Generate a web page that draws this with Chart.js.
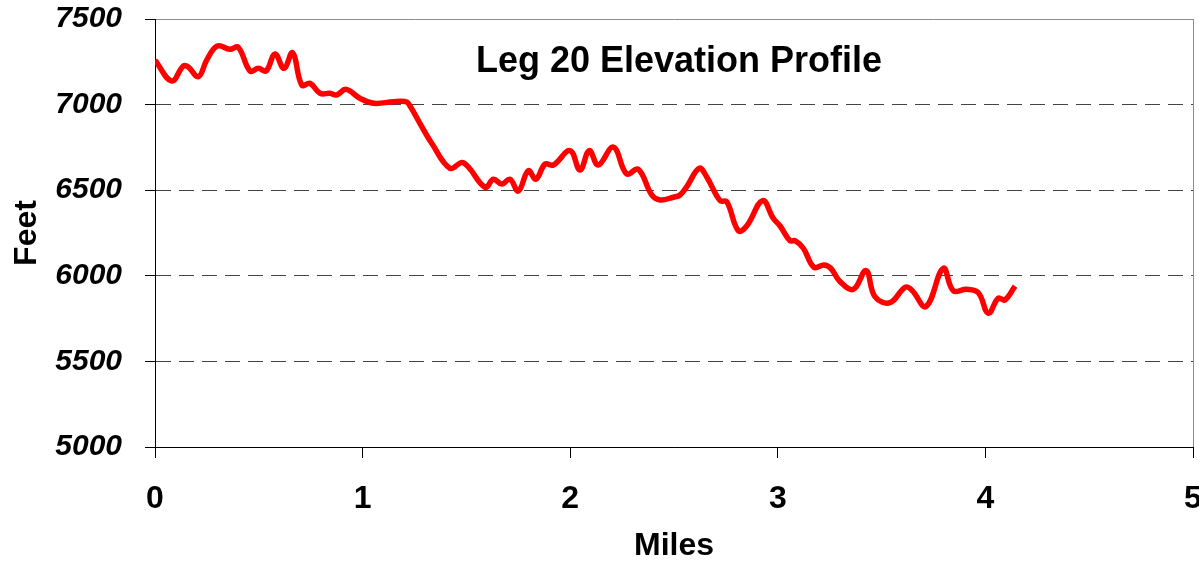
<!DOCTYPE html>
<html>
<head>
<meta charset="utf-8">
<script src="https://cdn.jsdelivr.net/npm/chart.js@4/dist/chart.umd.min.js"></script>
<style>
  html, body { margin: 0; padding: 0; background: #fff; overflow: hidden; }
  #wrap { width: 1199px; height: 563px; position: relative; }
</style>
</head>
<body>
<div id="wrap"><canvas id="elevChart"></canvas></div>
<script>
// elevation data
const miles = [0, 0.080, 0.136, 0.159, 0.209, 0.249, 0.300, 0.361, 0.401, 0.458,
  0.498, 0.535, 0.578, 0.621, 0.663, 0.707, 0.747, 0.795, 0.843, 0.875,
  0.920, 0.987, 1.052, 1.148, 1.204, 1.220, 1.285, 1.333, 1.421, 1.485,
  1.590, 1.630, 1.670, 1.710, 1.750, 1.798, 1.835, 1.879, 1.919, 1.999,
  2.047, 2.092, 2.135, 2.208, 2.272, 2.328, 2.393, 2.433, 2.497, 2.529,
  2.561, 2.622, 2.657, 2.722, 2.754, 2.810, 2.850, 2.927, 2.978, 3.011,
  3.059, 3.083, 3.123, 3.174, 3.223, 3.255, 3.300, 3.364, 3.425, 3.468,
  3.540, 3.613, 3.645, 3.714, 3.797, 3.845, 3.910, 3.966, 4.014, 4.062,
  4.094, 4.143];
const feet = [7260, 7138, 7225, 7221, 7163, 7260, 7342, 7323, 7335, 7196,
  7212, 7196, 7296, 7212, 7303, 7114, 7124, 7066, 7066, 7056,
  7089, 7037, 7008, 7017, 7018, 7008, 6871, 6774, 6628, 6661,
  6517, 6564, 6536, 6564, 6495, 6614, 6564, 6653, 6647, 6731,
  6618, 6731, 6647, 6751, 6595, 6622, 6472, 6443, 6459, 6472,
  6520, 6628, 6579, 6439, 6433, 6263, 6291, 6439, 6336, 6291,
  6205, 6205, 6161, 6050, 6063, 6044, 5966, 5921, 6030, 5878,
  5843, 5933, 5917, 5821, 6044, 5913, 5921, 5901, 5781, 5869,
  5859, 5940];
const chartTitle = "Leg 20 Elevation Profile";
const xTitle = "Miles";
const yTitle = "Feet";

const points = miles.map((m, i) => ({ x: m, y: feet[i] }));

//title sits inside the plot area
const innerTitle = {
  id: "innerTitle",
  afterDraw(chart) {
    const ctx = chart.ctx;
    ctx.save();
    ctx.font = "bold 36px 'Liberation Sans', Arial, sans-serif";
    ctx.fillStyle = "#000";
    ctx.textAlign = "center";
    ctx.textBaseline = "middle";
    ctx.fillText(chartTitle, 679, 62);
    ctx.restore();
  }
};

new Chart(document.getElementById("elevChart"), {
  type: "line",
  data: {
    datasets: [{
      data: points,
      borderColor: "#ff0000",
      borderWidth: 5.5,
      pointRadius: 0,
      tension: 0.4,
      fill: false
    }]
  },
  options: {
    responsive: true,
    maintainAspectRatio: false,
    animation: false,
    layout: { padding: { top: 19, right: 0, left: 0, bottom: 0 } },
    plugins: { legend: { display: false }, tooltip: { enabled: false } },
    scales: {
      x: {
        type: "linear",
        min: 0,
        max: 5,
        ticks: {
          stepSize: 1,
          color: "#000",
          padding: 22,
          font: { family: "'Liberation Sans', Arial, sans-serif", size: 32, weight: "bold" }
        },
        grid: {
          color: c => c.tick && c.tick.value === 5 ? "#8c8c8c" : "rgba(0,0,0,0)",
          tickColor: "#000",
          tickLength: 11,
          lineWidth: 1
        },
        border: { color: "#000", width: 1 },
        title: {
          display: true,
          text: xTitle,
          color: "#000",
          padding: { top: 0, bottom: -2 },
          font: { family: "'Liberation Sans', Arial, sans-serif", size: 32, weight: "bold" }
        },
        afterFit: s => { s.height = 116; s.paddingLeft = 0; s.paddingRight = 6; }
      },
      y: {
        min: 5000,
        max: 7500,
        ticks: {
          stepSize: 500,
          color: "#000",
          padding: 23,
          callback: v => String(v),
          font: { family: "'Liberation Sans', Arial, sans-serif", size: 30, weight: "bold", style: "italic" }
        },
        grid: {
          color: c => {
            if (!c.tick) return "#444";
            if (c.tick.value === 7500) return "#8c8c8c";
            if (c.tick.value === 5000) return "#000";
            return "#444";
          },
          tickColor: "#000",
          tickLength: 10,
          lineWidth: 1
        },
        border: {
          color: "#000",
          width: 1,
          dash: c => (c.type === "tick" && c.tick.value !== 7500 && c.tick.value !== 5000) ? [15, 8] : []
        },
        title: {
          display: true,
          text: yTitle,
          color: "#000",
          padding: { top: 8, bottom: 0 },
          font: { family: "'Liberation Sans', Arial, sans-serif", size: 32, weight: "bold" }
        },
        afterFit: s => { s.width = 155; s.paddingTop = 0; s.paddingBottom = 0; }
      }
    }
  },
  plugins: [innerTitle]
});
</script>
</body>
</html>
